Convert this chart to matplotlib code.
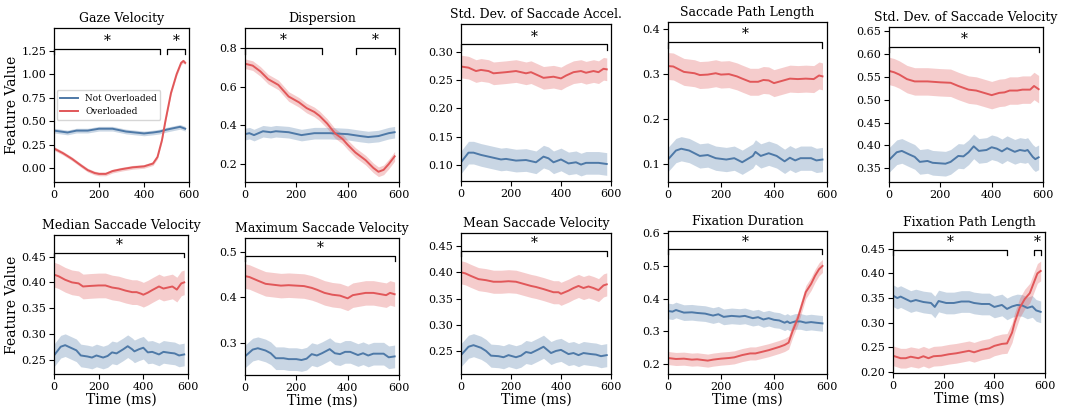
import numpy as np
import matplotlib
matplotlib.use('Agg')
import matplotlib.pyplot as plt

plt.rcParams['font.family'] = ['DejaVu Serif']

BLUE = '#4e79a7'
RED = '#e15759'

# ---- data (time in ms, feature value) ----
# Gaze Velocity
t_gaze_b = [0, 30, 60, 100, 150, 200, 260, 320, 360, 400, 440, 470, 500, 540, 560, 583]
gaze_b = [0.40, 0.39, 0.38, 0.40, 0.40, 0.42, 0.42, 0.39, 0.38, 0.37, 0.38, 0.39, 0.41, 0.43, 0.44, 0.42]
t_gaze_r = [0, 40, 80, 120, 150, 180, 200, 230, 260, 300, 350, 400, 440, 460, 480, 495, 520, 545, 565, 575, 583]
gaze_r = [0.21, 0.16, 0.10, 0.03, -0.02, -0.05, -0.06, -0.06, -0.03, -0.01, 0.01, 0.02, 0.05, 0.12, 0.30, 0.50, 0.80, 1.00, 1.12, 1.14, 1.12]
hw_gaze = [0.025, 0.02]

# Dispersion
t_disp_b = [0, 17, 35, 70, 100, 120, 170, 220, 270, 330, 400, 450, 480, 520, 560, 583]
disp_b = [0.355, 0.36, 0.35, 0.37, 0.365, 0.37, 0.365, 0.35, 0.36, 0.36, 0.355, 0.345, 0.34, 0.345, 0.36, 0.365]
t_disp_r = [0, 30, 60, 90, 130, 170, 210, 240, 270, 290, 320, 350, 380, 400, 430, 470, 500, 520, 540, 560, 583]
disp_r = [0.72, 0.71, 0.68, 0.64, 0.61, 0.55, 0.52, 0.49, 0.47, 0.45, 0.41, 0.36, 0.33, 0.30, 0.26, 0.22, 0.18, 0.16, 0.17, 0.20, 0.24]
hw_disp = [0.03, 0.025]

# Std. Dev. of Saccade Accel.
t_sda_b = [0, 30, 50, 80, 110, 130, 160, 180, 220, 260, 300, 330, 350, 370, 400, 430, 460, 480, 500, 550, 583]
sda_b = [0.105, 0.122, 0.122, 0.118, 0.115, 0.113, 0.110, 0.111, 0.108, 0.109, 0.105, 0.115, 0.112, 0.105, 0.110, 0.103, 0.105, 0.101, 0.104, 0.104, 0.102]
t_sda_r = [0, 30, 60, 80, 110, 130, 180, 220, 260, 280, 310, 330, 370, 400, 420, 450, 480, 500, 530, 550, 570, 583]
sda_r = [0.274, 0.272, 0.266, 0.268, 0.266, 0.262, 0.264, 0.266, 0.262, 0.264, 0.258, 0.254, 0.256, 0.253, 0.258, 0.264, 0.266, 0.263, 0.266, 0.264, 0.270, 0.269]
hw_sda = [0.02, 0.02]

# Saccade Path Length
t_spl_b = [0, 30, 50, 80, 120, 150, 180, 220, 250, 280, 320, 330, 350, 380, 410, 440, 460, 480, 500, 540, 560, 583]
spl_b = [0.110, 0.130, 0.134, 0.130, 0.118, 0.120, 0.113, 0.110, 0.113, 0.104, 0.118, 0.127, 0.118, 0.124, 0.118, 0.106, 0.114, 0.108, 0.113, 0.113, 0.108, 0.110]
t_spl_r = [0, 20, 60, 100, 120, 150, 180, 200, 230, 260, 280, 310, 340, 360, 380, 400, 430, 460, 490, 520, 550, 570, 583]
spl_r = [0.318, 0.317, 0.305, 0.302, 0.298, 0.299, 0.302, 0.299, 0.300, 0.295, 0.290, 0.283, 0.283, 0.287, 0.286, 0.280, 0.285, 0.290, 0.289, 0.290, 0.289, 0.297, 0.295]
hw_spl = [0.027, 0.03]

# Std. Dev. of Saccade Velocity
t_sdv_b = [0, 30, 50, 80, 100, 120, 150, 170, 220, 240, 270, 290, 310, 330, 350, 380, 400, 420, 440, 460, 490, 510, 530, 540, 560, 570, 583]
sdv_b = [0.368, 0.385, 0.388, 0.380, 0.375, 0.364, 0.366, 0.362, 0.360, 0.364, 0.377, 0.376, 0.385, 0.398, 0.388, 0.390, 0.396, 0.393, 0.387, 0.394, 0.386, 0.390, 0.388, 0.390, 0.375, 0.370, 0.374]
t_sdv_r = [0, 20, 40, 70, 100, 150, 200, 240, 270, 310, 340, 370, 400, 430, 450, 470, 500, 520, 550, 565, 583]
sdv_r = [0.563, 0.560, 0.555, 0.545, 0.540, 0.540, 0.538, 0.537, 0.530, 0.522, 0.520, 0.515, 0.510, 0.515, 0.516, 0.520, 0.520, 0.522, 0.522, 0.530, 0.523]
hw_sdv = [0.027, 0.03]

# Median Saccade Velocity
t_med_b = [0, 30, 50, 80, 100, 120, 150, 170, 190, 220, 240, 260, 280, 310, 330, 350, 360, 380, 400, 420, 440, 470, 490, 520, 540, 560, 583]
med_b = [0.258, 0.275, 0.278, 0.272, 0.268, 0.258, 0.256, 0.254, 0.258, 0.254, 0.257, 0.264, 0.262, 0.270, 0.276, 0.270, 0.266, 0.270, 0.273, 0.264, 0.265, 0.260, 0.265, 0.263, 0.262, 0.258, 0.260]
t_med_r = [0, 20, 50, 80, 110, 130, 160, 200, 230, 260, 290, 320, 350, 370, 390, 400, 420, 440, 470, 490, 510, 530, 550, 570, 583]
med_r = [0.415, 0.412, 0.405, 0.400, 0.398, 0.392, 0.393, 0.394, 0.394, 0.390, 0.388, 0.384, 0.381, 0.381, 0.378, 0.376, 0.380, 0.385, 0.392, 0.388, 0.390, 0.392, 0.386, 0.398, 0.400]
hw_med = [0.022, 0.024]

# Maximum Saccade Velocity
t_max_b = [0, 30, 50, 80, 100, 120, 150, 170, 200, 220, 240, 260, 280, 300, 330, 350, 370, 390, 410, 440, 460, 480, 500, 540, 560, 583]
max_b = [0.270, 0.285, 0.288, 0.283, 0.277, 0.266, 0.266, 0.264, 0.264, 0.262, 0.265, 0.275, 0.272, 0.277, 0.286, 0.277, 0.275, 0.280, 0.280, 0.273, 0.277, 0.272, 0.276, 0.276, 0.268, 0.270]
t_max_r = [0, 17, 50, 80, 110, 140, 170, 200, 230, 260, 280, 310, 340, 370, 400, 420, 440, 470, 500, 520, 550, 565, 583]
max_r = [0.447, 0.445, 0.437, 0.430, 0.428, 0.426, 0.427, 0.426, 0.425, 0.421, 0.417, 0.410, 0.406, 0.404, 0.398, 0.405, 0.407, 0.410, 0.410, 0.408, 0.405, 0.410, 0.407]
hw_max = [0.025, 0.027]

# Mean Saccade Velocity
t_mean_b = [0, 30, 50, 80, 100, 120, 150, 170, 190, 220, 240, 260, 280, 310, 330, 350, 360, 380, 400, 430, 450, 470, 490, 520, 540, 560, 583]
mean_b = [0.242, 0.258, 0.261, 0.256, 0.250, 0.241, 0.240, 0.238, 0.242, 0.238, 0.241, 0.248, 0.246, 0.253, 0.258, 0.250, 0.246, 0.250, 0.252, 0.244, 0.246, 0.242, 0.246, 0.244, 0.243, 0.240, 0.242]
t_mean_r = [0, 17, 40, 70, 100, 130, 160, 190, 220, 250, 280, 300, 330, 350, 370, 390, 400, 430, 450, 470, 490, 510, 530, 550, 570, 583]
mean_r = [0.400, 0.398, 0.393, 0.387, 0.385, 0.382, 0.382, 0.383, 0.382, 0.378, 0.374, 0.372, 0.368, 0.365, 0.362, 0.362, 0.359, 0.365, 0.370, 0.374, 0.370, 0.373, 0.370, 0.366, 0.375, 0.377]
hw_mean = [0.022, 0.022]

# Fixation Duration
t_fd_b = [0, 17, 30, 60, 90, 110, 140, 170, 190, 210, 240, 270, 290, 320, 340, 360, 380, 400, 420, 440, 450, 460, 480, 500, 520, 540, 560, 583]
fd_b = [0.362, 0.360, 0.365, 0.357, 0.358, 0.356, 0.354, 0.348, 0.352, 0.344, 0.347, 0.345, 0.347, 0.340, 0.343, 0.336, 0.340, 0.335, 0.333, 0.326, 0.330, 0.325, 0.330, 0.330, 0.326, 0.328, 0.326, 0.324]
t_fd_r = [0, 30, 60, 90, 110, 150, 170, 200, 230, 250, 280, 310, 330, 360, 380, 400, 420, 440, 455, 470, 490, 505, 520, 540, 555, 570, 583]
fd_r = [0.218, 0.215, 0.216, 0.213, 0.214, 0.210, 0.213, 0.216, 0.218, 0.220, 0.227, 0.232, 0.232, 0.238, 0.242, 0.247, 0.252, 0.258, 0.265, 0.300, 0.340, 0.380, 0.420, 0.445, 0.470, 0.490, 0.500]
hw_fd = [0.024, 0.02]

# Fixation Path Length
t_fpl_b = [0, 17, 30, 70, 90, 120, 150, 165, 180, 210, 240, 270, 300, 320, 350, 380, 400, 430, 450, 470, 490, 510, 530, 550, 565, 583]
fpl_b = [0.355, 0.350, 0.353, 0.343, 0.346, 0.342, 0.340, 0.332, 0.344, 0.340, 0.340, 0.343, 0.343, 0.340, 0.338, 0.338, 0.332, 0.336, 0.328, 0.333, 0.336, 0.335, 0.330, 0.333, 0.325, 0.322]
t_fpl_r = [0, 30, 50, 70, 100, 120, 140, 160, 190, 220, 250, 280, 300, 320, 350, 380, 400, 430, 450, 470, 480, 500, 520, 540, 555, 570, 583]
fpl_r = [0.233, 0.228, 0.228, 0.231, 0.228, 0.232, 0.228, 0.232, 0.233, 0.236, 0.238, 0.241, 0.243, 0.240, 0.245, 0.248, 0.253, 0.257, 0.258, 0.280, 0.300, 0.330, 0.348, 0.360, 0.380, 0.400, 0.405]
hw_fpl = [0.022, 0.02]

titles = ['Gaze Velocity', 'Dispersion', 'Std. Dev. of Saccade Accel.', 'Saccade Path Length',
          'Std. Dev. of Saccade Velocity', 'Median Saccade Velocity', 'Maximum Saccade Velocity',
          'Mean Saccade Velocity', 'Fixation Duration', 'Fixation Path Length']

# significance brackets (start ms, end ms)
brackets = [[(0, 470), (500, 583)], [(0, 300), (432, 583)], [(0, 583)], [(0, 583)], [(0, 583)],
            [(0, 583)], [(0, 583)], [(0, 583)], [(0, 583)], [(0, 450), (555, 583)]]
bracket_y = [1.27, 0.80, 0.313, 0.371, 0.616, 0.458, 0.491, 0.441, 0.551, 0.448]

ylims = [(-0.146, 1.49), (0.107, 0.905), (0.072, 0.349), (0.06, 0.416), (0.32, 0.659),
         (0.222, 0.492), (0.229, 0.531), (0.206, 0.475), (0.169, 0.607), (0.198, 0.484)]
yticks = [[0.0, 0.25, 0.5, 0.75, 1.0, 1.25], [0.2, 0.4, 0.6, 0.8], [0.10, 0.15, 0.20, 0.25, 0.30],
          [0.1, 0.2, 0.3, 0.4], [0.35, 0.40, 0.45, 0.50, 0.55, 0.60, 0.65],
          [0.25, 0.30, 0.35, 0.40, 0.45], [0.3, 0.4, 0.5], [0.25, 0.30, 0.35, 0.40, 0.45],
          [0.2, 0.3, 0.4, 0.5, 0.6], [0.20, 0.25, 0.30, 0.35, 0.40, 0.45]]
yfmt = ['%.2f', '%.1f', '%.2f', '%.1f', '%.2f', '%.2f', '%.1f', '%.2f', '%.1f', '%.2f']

series = [(t_gaze_b, gaze_b, t_gaze_r, gaze_r, hw_gaze),
          (t_disp_b, disp_b, t_disp_r, disp_r, hw_disp),
          (t_sda_b, sda_b, t_sda_r, sda_r, hw_sda),
          (t_spl_b, spl_b, t_spl_r, spl_r, hw_spl),
          (t_sdv_b, sdv_b, t_sdv_r, sdv_r, hw_sdv),
          (t_med_b, med_b, t_med_r, med_r, hw_med),
          (t_max_b, max_b, t_max_r, max_r, hw_max),
          (t_mean_b, mean_b, t_mean_r, mean_r, hw_mean),
          (t_fd_b, fd_b, t_fd_r, fd_r, hw_fd),
          (t_fpl_b, fpl_b, t_fpl_r, fpl_r, hw_fpl)]

# axes boxes in pixels: left, right, top, bottom
boxes = [(54, 189, 28, 182), (245, 399, 28, 182), (461, 611, 24, 181), (668, 827, 22, 182), (889, 1043, 27, 182),
         (54, 188, 235, 374), (245, 399, 238, 375), (461, 611, 233, 374), (668, 827, 231, 374), (893, 1045, 232, 373)]

W, H = 1068, 412
fig = plt.figure(figsize=(W / 100, H / 100), dpi=100)

for i in range(10):
    l, r, t, b = boxes[i]
    ax = fig.add_axes([l / W, 1 - b / H, (r - l) / W, (b - t) / H])
    tb, vb, tr, vr, hw = series[i]
    tb, vb, tr, vr = map(np.asarray, (tb, vb, tr, vr))
    ax.fill_between(tb, vb - hw[0], vb + hw[0], color=BLUE, alpha=0.3, lw=0)
    ax.fill_between(tr, vr - hw[1], vr + hw[1], color=RED, alpha=0.3, lw=0)
    ax.plot(tb, vb, color=BLUE, lw=1.4, label='Not Overloaded')
    ax.plot(tr, vr, color=RED, lw=1.4, label='Overloaded')
    ax.set_xlim(0, 600)
    ax.set_ylim(*ylims[i])
    ax.set_xticks([0, 200, 400, 600])
    ax.set_yticks(yticks[i])
    ax.set_yticklabels([yfmt[i] % v for v in yticks[i]])
    ax.tick_params(labelsize=8, length=3.5, width=0.8, pad=2)
    ax.set_title(titles[i], fontsize=9, pad=4)
    for s in ax.spines.values():
        s.set_linewidth(0.9)

    # significance brackets with stars
    y0, y1 = ylims[i]
    dy = 0.035 * (y1 - y0)
    by = bracket_y[i]
    for x0, x1 in brackets[i]:
        ax.plot([x0, x0, x1, x1], [by - dy, by, by, by - dy], color='black', lw=0.9, clip_on=False)
        ax.text((x0 + x1) / 2, by + 0.005 * (y1 - y0), '*', ha='center', va='bottom', fontsize=10)

    if i % 5 == 0:
        ax.set_ylabel('Feature Value', fontsize=10, labelpad=2)
    if i >= 5:
        ax.set_xlabel('Time (ms)', fontsize=10, labelpad=1)
    if i == 0:
        ax.legend(loc='center left', fontsize=6.4, handlelength=2.0, borderaxespad=0.3)

fig.savefig('out.png', dpi=100)
